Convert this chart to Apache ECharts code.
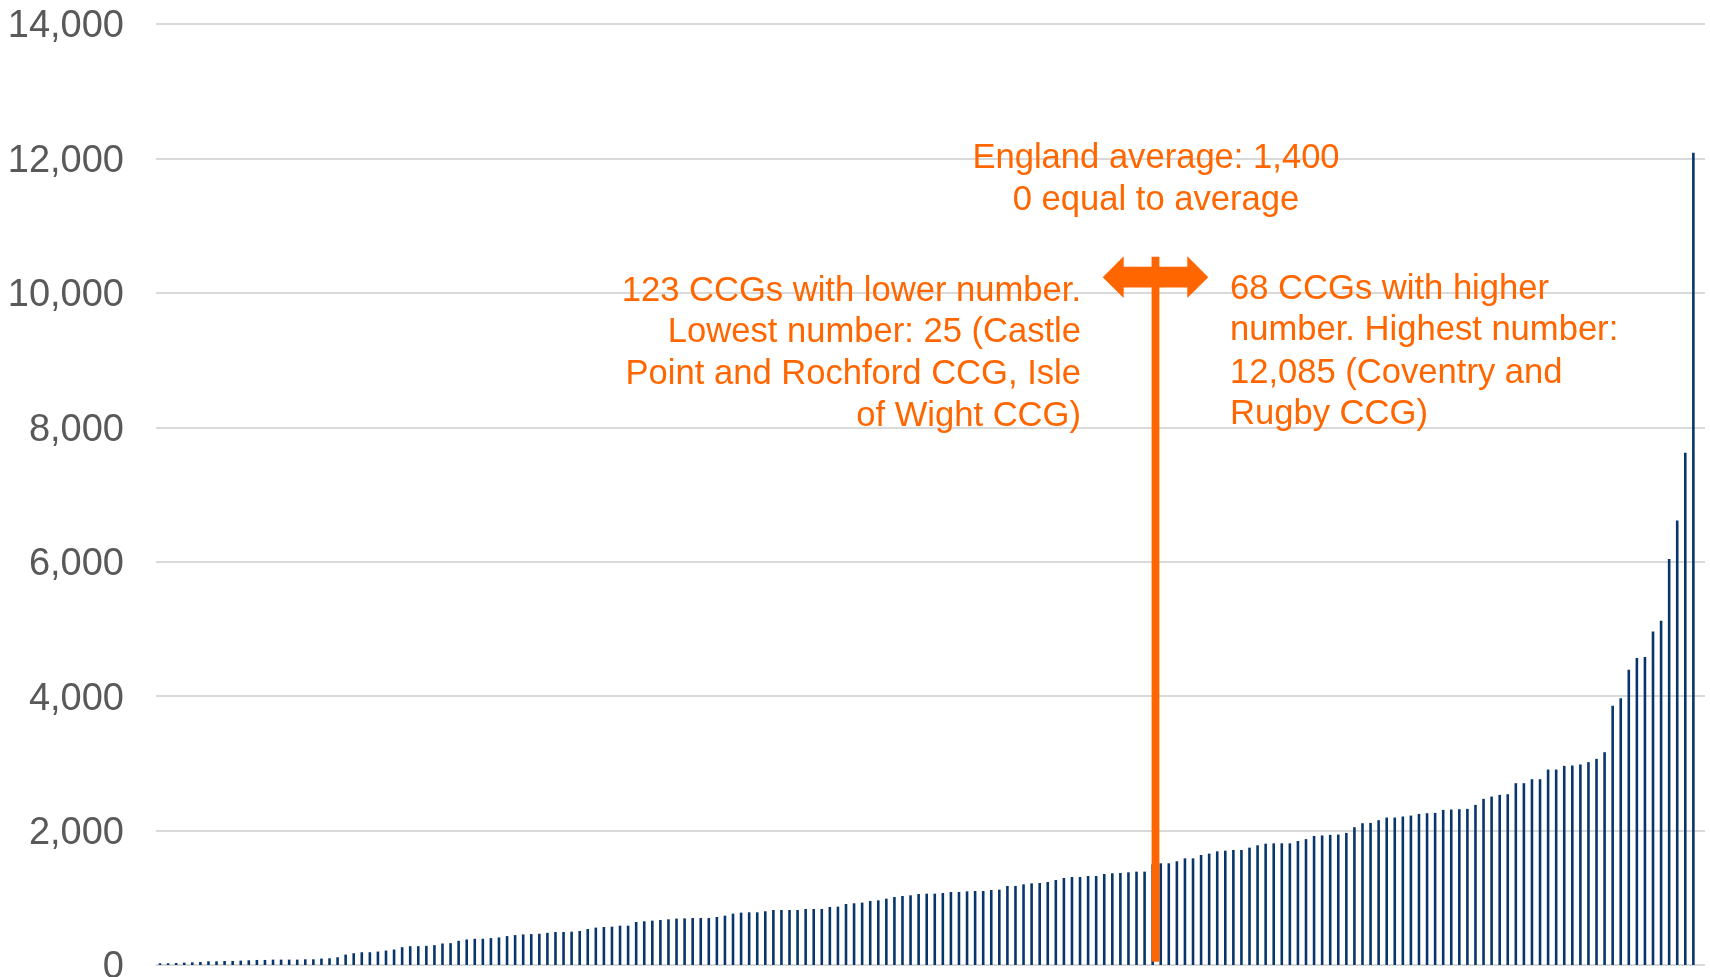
<!DOCTYPE html>
<html>
<head>
<meta charset="utf-8">
<script src="https://cdn.jsdelivr.net/npm/echarts@6/dist/echarts.min.js"></script>
<style>
  html, body { margin: 0; padding: 0; background: #ffffff; overflow: hidden; }
  #chart { width: 1710px; height: 977px; }
</style>
</head>
<body>
<div id="chart"></div>
<script>
// ---- Data ----
// Number per CCG, sorted ascending (191 CCGs)
const values = [
  25, 25, 30, 35, 40, 45, 55, 55, 60, 60, 65, 70, 75, 75, 80, 80, 80, 80, 85, 85,
  95, 100, 115, 155, 175, 190, 190, 200, 215, 230, 265, 280, 280, 285, 295, 320, 325, 360, 380, 390,
  390, 400, 410, 430, 445, 455, 460, 465, 478,
  491, 491, 496, 506, 536, 556, 565, 570, 585, 585, 640, 650, 660, 670, 680, 690, 694, 699, 699, 699,
  714, 734, 764, 779, 784, 784, 799, 818, 818, 818, 818, 833, 833, 833, 863, 868, 908, 918, 928, 952,
  962, 987, 1012, 1027, 1037, 1056, 1061, 1061,
  1071, 1086, 1086, 1096, 1101, 1101, 1116, 1121, 1176, 1176, 1200, 1215, 1220, 1235, 1265, 1295,
  1309, 1309, 1324, 1324, 1354, 1364, 1369, 1379, 1389, 1389, 1498, 1513, 1513, 1543, 1587, 1587,
  1637, 1657, 1691, 1701, 1711, 1711, 1746, 1781, 1805, 1810, 1810, 1810, 1845, 1873, 1920, 1928,
  1936, 1941, 1965, 2050, 2109, 2114, 2154, 2194, 2194, 2209, 2223, 2248, 2258, 2263, 2308, 2313,
  2318, 2323, 2382, 2472, 2506, 2531, 2541, 2705, 2705, 2764, 2764, 2908, 2908, 2963, 2968, 2983,
  3018, 3067, 3166, 3856, 3970, 4392, 4566, 4581, 4963, 5122, 6040, 6615, 7620, 12085
];
// Category labels: CCG rank (the reference shows no x labels)
const categories = values.map((v, i) => 'CCG ' + (i + 1));

// Y-axis ticks
const yTicks = [0, 2000, 4000, 6000, 8000, 10000, 12000, 14000];

// Average marker (position measured in category units from the left edge)
const averageMarker = [[123.85, 10234]];
const averageLineBottom = 50;

// Annotation text
const topLines = ['England average: 1,400', '0 equal to average'];
const leftLines = ['123 CCGs with lower number.', 'Lowest number: 25 (Castle', 'Point and Rochford CCG, Isle', 'of Wight CCG)'];
const rightLines = ['68 CCGs with higher', 'number. Highest number:', '12,085 (Coventry and', 'Rugby CCG)'];

// ---- Styles ----
const ORANGE = '#FF6600';
const NAVY = '#08366B';
const GRID = '#D9D9D9';
const FONT = '"Liberation Sans", Arial, sans-serif';

const chart = echarts.init(document.getElementById('chart'), null, { renderer: 'canvas' });

function fmt(v) { return v.toLocaleString('en-GB'); }

const yMin = yTicks[0];
const yMax = yTicks[yTicks.length - 1];

const option = {
  animation: false,
  backgroundColor: '#ffffff',
  grid: [
    // plotting grid for the bars
    { left: 156, right: 12.6, top: 24, bottom: 12, containLabel: false, outerBoundsMode: 'none' },
    // background grid for gridlines and labels (extends slightly further right)
    { left: 156, right: 5, top: 24, bottom: 12, containLabel: false, outerBoundsMode: 'none' }
  ],
  xAxis: [
    {
      type: 'category',
      gridIndex: 0,
      data: categories,
      boundaryGap: true,
      axisLine: { show: false },
      axisTick: { show: false },
      axisLabel: { show: false },
      splitLine: { show: false }
    },
    {
      type: 'value',
      gridIndex: 0,
      min: 0,
      max: values.length,
      show: false
    },
    {
      type: 'value',
      gridIndex: 1,
      min: 0,
      max: 1,
      show: false
    }
  ],
  yAxis: [
    {
      type: 'value',
      gridIndex: 0,
      min: yMin,
      max: yMax,
      interval: 2000,
      show: false
    },
    {
      type: 'value',
      gridIndex: 1,
      min: yMin,
      max: yMax,
      interval: 2000,
      axisLine: { show: false },
      axisTick: { show: false },
      axisLabel: {
        color: '#595959',
        fontSize: 38,
        fontFamily: FONT,
        margin: 32,
        formatter: function (v) { return '{a|' + fmt(v) + '}'; },
        rich: {
          a: {
            color: '#595959',
            fontSize: 38,
            fontFamily: FONT,
            padding: [6, 0, 0, 0]
          }
        }
      },
      splitLine: { show: true, lineStyle: { color: GRID, width: 2 } }
    }
  ],
  series: [
    {
      type: 'bar',
      data: values,
      xAxisIndex: 0,
      yAxisIndex: 0,
      barWidth: 2.6,
      itemStyle: { color: NAVY },
      silent: true,
      z: 3
    },
    {
      type: 'custom',
      xAxisIndex: 1,
      yAxisIndex: 0,
      data: averageMarker,
      clip: false,
      silent: true,
      z: 10,
      renderItem: function (params, api) {
        const c = api.coord([api.value(0), api.value(1)]);
        const b = api.coord([api.value(0), averageLineBottom]);
        const cx = c[0], cy = c[1];
        const children = [];
        // vertical line
        children.push({
          type: 'rect',
          shape: { x: cx - 3.9, y: cy - 20.4, width: 7.8, height: b[1] - (cy - 20.4) },
          style: { fill: ORANGE }
        });
        // double-headed arrow
        children.push({
          type: 'polygon',
          shape: {
            points: [
              [cx - 52.8, cy],
              [cx - 31.8, cy - 20.8],
              [cx - 31.8, cy - 10.3],
              [cx + 31.8, cy - 10.3],
              [cx + 31.8, cy - 20.8],
              [cx + 52.8, cy],
              [cx + 31.8, cy + 20.8],
              [cx + 31.8, cy + 10.3],
              [cx - 31.8, cy + 10.3],
              [cx - 31.8, cy + 20.8]
            ]
          },
          style: { fill: ORANGE }
        });
        const textStyle = (text, x, y, align) => ({
          type: 'text',
          x: x, y: y,
          style: {
            text: text,
            fill: ORANGE,
            font: '34.6px ' + FONT,
            align: align,
            verticalAlign: 'middle'
          }
        });
        const topY = [-118.7, -76.7];
        topLines.forEach((t, i) => children.push(textStyle(t, cx + 0.5, cy + topY[i], 'center')));
        const leftY = [14.3, 55.8, 97.3, 139.3];
        leftLines.forEach((t, i) => children.push(textStyle(t, cx - 74.5, cy + leftY[i], 'right')));
        const rightY = [12.3, 53.3, 96.3, 137.3];
        rightLines.forEach((t, i) => children.push(textStyle(t, cx + 74.5, cy + rightY[i], 'left')));
        return { type: 'group', children: children };
      }
    }
  ]
};

chart.setOption(option);
</script>
</body>
</html>
